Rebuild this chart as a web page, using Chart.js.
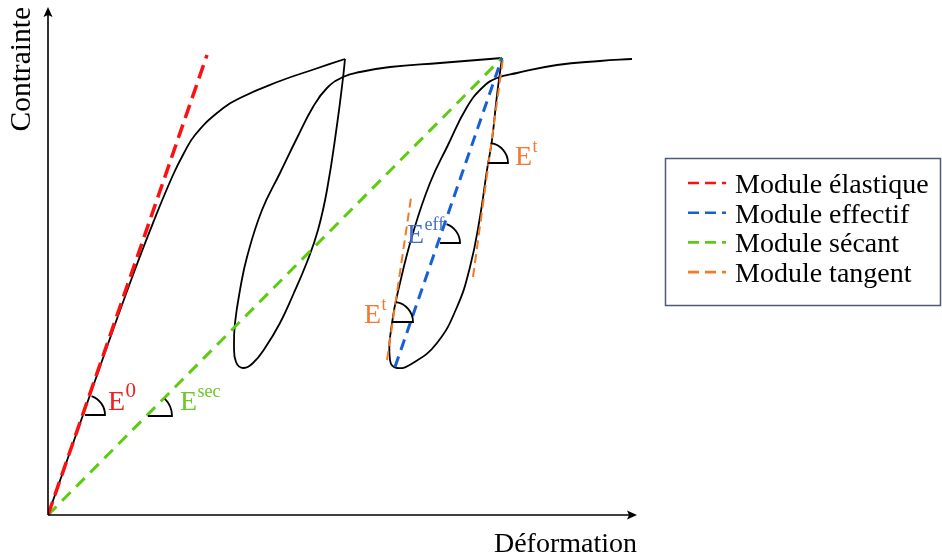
<!DOCTYPE html>
<html>
<head>
<meta charset="utf-8">
<script src="https://cdn.jsdelivr.net/npm/chart.js@4.4.1/dist/chart.umd.min.js"></script>
<style>
  html, body { margin: 0; background: #fff; }
</style>
</head>
<body>
<canvas id="c" width="942" height="559"></canvas>
<script>
// ----- curves, in strain / stress units -----
const envelope = [[0,0],[0.42,1.20],[0.82,2.32],[1.07,2.97],[1.25,3.40],[1.36,3.62],[1.47,3.80],
  [1.69,4.02],[1.92,4.17],[2.32,4.34],[2.67,4.46],[2.97,4.56]];
const loop1 = [[2.97,4.56],[2.95,4.37],[2.89,3.90],[2.79,3.25],[2.70,2.85],[2.59,2.53],[2.45,2.20],
  [2.32,1.92],[2.17,1.67],[2.05,1.52],[1.95,1.47],[1.88,1.53],[1.86,1.70],[1.87,1.92],[1.92,2.25],
  [1.99,2.58],[2.14,3.05],[2.32,3.42],[2.49,3.77],[2.65,4.08],[2.79,4.27],[2.95,4.38],[3.12,4.43],
  [3.42,4.48],[3.92,4.52],[4.54,4.57]];
const loop2 = [[4.54,4.57],[4.49,4.20],[4.44,3.75],[4.39,3.45],[4.32,2.98],[4.22,2.48],[4.09,2.08],
  [3.89,1.72],[3.65,1.52],[3.49,1.47],[3.42,1.55],[3.44,1.92],[3.52,2.32],[3.65,2.82],[3.82,3.32],
  [4.00,3.70],[4.19,4.08],[4.35,4.28],[4.49,4.37],[4.69,4.42],[5.09,4.50],[5.52,4.54],[5.84,4.56]];

// ----- moduli (straight lines) -----
const elastic   = [[0,0],[1.59,4.60]];
const effective = [[3.47,1.48],[4.54,4.57]];
const secant    = [[0,0],[4.54,4.57]];
const tangentA  = [[3.39,1.55],[3.63,3.17]];
const tangentB  = [[4.25,2.38],[4.55,4.57]];

const legendLabels = ['Module élastique','Module effectif','Module sécant','Module tangent'];

// angle markers: where they sit and which line they measure
const markerAt   = [[0.37,1.00],[1.00,0.99],[3.92,2.72],[3.45,1.93],[4.40,3.52]];
const markerLine = [elastic, secant, effective, tangentA, tangentB];
// labels E^x next to the markers
const labelAt  = [[0.60,1.05],[1.32,1.05],[3.59,2.72],[3.16,1.92],[4.67,3.50]];
const labelSup = ['0','sec','eff','t','t'];

const RED = '#ff1010', BLUE = '#1560d8', GREEN = '#5ccc10', ORANGE = '#f47a25';
const labelColor = ['#f02020','#6cc828','#3f70cc','#f07a35','#f07a35'];
const markerR = [20,24,20,20,20];
const SERIF = '"Liberation Serif", "DejaVu Serif", serif';

const pts = a => a.map(p => ({x:p[0], y:p[1]}));
const dashed = (label, d, color, w, dash) => ({label, data:pts(d), borderColor:color, borderWidth:w,
  borderDash:dash, showLine:true, pointRadius:0, tension:0, fill:false});
const curve = d => ({label:'', data:pts(d), borderColor:'#000', borderWidth:1.8,
  showLine:true, pointRadius:0, tension:0.45, fill:false});

// axes with arrows, angle markers, labels, legend box
const deco = {
  id:'deco',
  afterDatasetsDraw(chart){
    const {ctx, chartArea:a, scales:{x, y}} = chart;
    const px = p => [x.getPixelForValue(p[0]), y.getPixelForValue(p[1])];
    ctx.save();
    // axes
    ctx.strokeStyle = '#000'; ctx.fillStyle = '#000'; ctx.lineWidth = 1.6;
    ctx.beginPath();
    ctx.moveTo(a.left, a.bottom); ctx.lineTo(a.left, a.top + 6);
    ctx.moveTo(a.left, a.bottom); ctx.lineTo(a.right - 6, a.bottom);
    ctx.stroke();
    ctx.beginPath();
    ctx.moveTo(a.left, a.top); ctx.lineTo(a.left - 4.5, a.top + 10); ctx.lineTo(a.left, a.top + 8); ctx.lineTo(a.left + 4.5, a.top + 10);
    ctx.closePath(); ctx.fill();
    ctx.beginPath();
    ctx.moveTo(a.right, a.bottom); ctx.lineTo(a.right - 10, a.bottom - 4.5); ctx.lineTo(a.right - 8, a.bottom); ctx.lineTo(a.right - 10, a.bottom + 4.5);
    ctx.closePath(); ctx.fill();

    // angle markers
    ctx.lineWidth = 1.8;
    markerAt.forEach((m, i) => {
      const [cx, cy] = px(m);
      const L = markerLine[i].map(px);
      let t = Math.atan2(L[1][1] - L[0][1], L[1][0] - L[0][0]);
      if (Math.sin(t) > 0) t -= Math.PI;
      const r = markerR[i];
      ctx.beginPath();
      ctx.moveTo(cx, cy); ctx.lineTo(cx + r, cy);
      ctx.arc(cx, cy, r, 0, t, true);
      ctx.stroke();
    });

    // E labels
    labelAt.forEach((p, i) => {
      const [lx, ly] = px(p);
      ctx.fillStyle = labelColor[i];
      ctx.textBaseline = 'alphabetic'; ctx.textAlign = 'left';
      ctx.font = '28px ' + SERIF;
      ctx.fillText('E', lx, ly);
      const w = ctx.measureText('E').width;
      ctx.font = (labelSup[i] === '0' ? '21px ' : '18px ') + SERIF;
      ctx.fillText(labelSup[i], lx + w + 0.5, ly - 13);
    });

    // legend
    ctx.strokeStyle = '#4d5b70'; ctx.lineWidth = 1.5;
    ctx.strokeRect(665.5, 158.5, 275, 147);
    ctx.font = '28px ' + SERIF; ctx.fillStyle = '#000';
    legendLabels.forEach((lab, i) => {
      const ds = chart.data.datasets.find(d => d.label === lab);
      const by = 193 + i * 29.7;
      ctx.save();
      ctx.strokeStyle = ds.borderColor; ctx.lineWidth = 2.6;
      ctx.setLineDash([11, 6]);
      ctx.beginPath(); ctx.moveTo(688, by - 10); ctx.lineTo(726, by - 10); ctx.stroke();
      ctx.restore();
      ctx.fillText(lab, 735, by);
    });
    ctx.restore();
  }
};

new Chart(document.getElementById('c'), {
  type:'scatter',
  data:{datasets:[
    dashed(legendLabels[0], elastic, RED, 3.5, [14, 7]),
    dashed(legendLabels[1], effective, BLUE, 3, [11, 7]),
    dashed(legendLabels[2], secant, GREEN, 3, [12, 8]),
    dashed(legendLabels[3], tangentA, ORANGE, 2, [9, 5]),
    dashed(legendLabels[3], tangentB, ORANGE, 2, [9, 5]),
    curve(envelope), curve(loop1), curve(loop2)
  ]},
  options:{
    responsive:false, animation:false, devicePixelRatio:1,
    layout:{padding:{left:0, top:7, right:305, bottom:0}},
    plugins:{legend:{display:false}, tooltip:{enabled:false}},
    scales:{
      x:{type:'linear', min:0, max:5.89, grid:{display:false, drawTicks:false}, border:{display:false}, ticks:{display:false},
        title:{display:true, text:'Déformation', align:'end', color:'#000',
          font:{family:SERIF, size:28, lineHeight:1}, padding:{top:16, bottom:0}}},
      y:{type:'linear', min:0, max:5.08, grid:{display:false, drawTicks:false}, border:{display:false}, ticks:{display:false},
        title:{display:true, text:'Contrainte', align:'end', color:'#000',
          font:{family:SERIF, size:29.5, lineHeight:1}, padding:{top:7, bottom:11.5}}}
    }
  },
  plugins:[deco]
});
</script>
</body>
</html>
